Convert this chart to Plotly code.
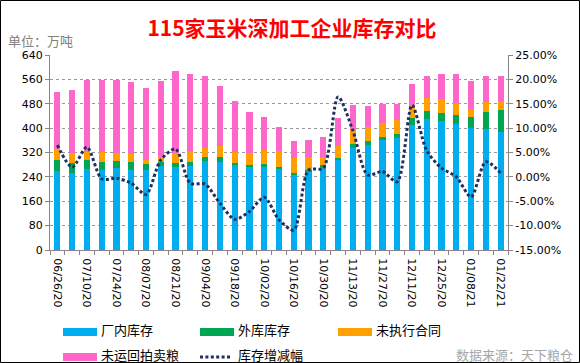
import plotly.graph_objects as go

# ---------------- data ----------------
dates = ["06/26/20", "07/03/20", "07/10/20", "07/17/20", "07/24/20", "07/31/20", "08/07/20",
         "08/14/20", "08/21/20", "08/28/20", "09/04/20", "09/11/20", "09/18/20", "09/25/20",
         "10/02/20", "10/09/20", "10/16/20", "10/23/20", "10/30/20", "11/06/20", "11/13/20",
         "11/20/20", "11/27/20", "12/04/20", "12/11/20", "12/18/20", "12/25/20", "01/01/21",
         "01/08/21", "01/15/21", "01/22/21"]

factory_stock = [259, 254, 266, 263, 270, 263, 262, 276, 272, 276, 292, 290, 281, 274, 274, 268,
                 247, 257, 272, 294, 335, 345, 360, 367, 410, 430, 425, 412, 402, 397, 388]
outside_stock = [36, 33, 29, 27, 22, 26, 19, 14, 14, 14, 14, 16, 6, 5, 8, 3,
                 7, 6, 7, 7, 13, 14, 11, 14, 22, 27, 26, 31, 36, 57, 72]
unexecuted = [35, 30, 26, 33, 25, 26, 14, 16, 34, 36, 28, 35, 36, 41, 46, 55,
              47, 43, 27, 41, 47, 46, 45, 45, 44, 43, 43, 38, 25, 33, 30]
auction_grain = [189, 208, 237, 235, 241, 236, 237, 249, 268, 252, 237, 197, 166, 133, 109, 78,
                 57, 55, 65, 92, 81, 68, 64, 52, 69, 72, 84, 97, 93, 85, 82]
change_pct = [6.5, 2.0, 6.1, -0.4, -0.3, -1.3, -3.6, 3.5, 5.7, -1.3, -1.5, -5.4, -8.7, -7.1,
              -4.2, -8.8, -10.9, 1.4, 1.8, 16.4, 9.5, 0.4, 1.1, -1.0, 14.7, 5.4, 1.8, 0.0,
              -4.1, 3.1, 0.8]

series_names = ["厂内库存", "外库库存", "未执行合同", "未运回拍卖粮", "库存增减幅"]
colors = ["#00AEEF", "#00A651", "#FFA000", "#FF66CC", "#1F3060"]

left_ticks = [0, 80, 160, 240, 320, 400, 480, 560, 640]
right_ticks = [-15, -10, -5, 0, 5, 10, 15, 20, 25]

title_text = "115家玉米深加工企业库存对比"
unit_text = "单位：万吨"
source_text = "数据来源：天下粮仓"

# ---------------- geometry helpers ----------------
FW, FH = 580, 363
ML, MR, MT, MB = 50, 72, 55, 113
PW, PH = FW - ML - MR, FH - MT - MB


def px(x):
    return (x - ML) / PW


def py(y):
    return (FH - MB - y) / PH


xs = list(range(len(dates)))

fig = go.Figure()
bar_series = [factory_stock, outside_stock, unexecuted, auction_grain]
for vals, name, col in zip(bar_series, series_names[:4], colors[:4]):
    fig.add_trace(go.Bar(x=xs, y=vals, name=name, marker=dict(color=col, line=dict(width=0)),
                         showlegend=False, yaxis="y"))

fig.add_trace(go.Scatter(x=xs, y=change_pct, name=series_names[4], mode="lines",
                         line=dict(color=colors[4], width=3, dash="3px,2.4px", shape="spline",
                                   smoothing=0.8),
                         showlegend=False, yaxis="y2"))

axis_font = dict(family="DejaVu Sans", size=11, color="#000000")

fig.update_layout(
    width=FW, height=FH,
    margin=dict(l=ML, r=MR, t=MT, b=MB),
    paper_bgcolor="white", plot_bgcolor="white",
    barmode="stack", bargap=0.58,
    font=dict(family="Noto Sans CJK SC", size=12, color="#000"),
    title=dict(text=title_text, x=292 / FW, xref="container", xanchor="center",
               y=1 - 29 / FH, yref="container", yanchor="middle",
               font=dict(family="Noto Sans CJK SC", size=21, color="#FF0000", weight="bold")),
    xaxis=dict(range=[-0.5, len(dates) - 0.5], tickmode="array",
               tickvals=xs[::2], ticktext=dates[::2], tickangle=90,
               tickfont=axis_font, ticks="outside", ticklen=5, tickcolor="rgba(0,0,0,0)",
               showline=True, linecolor="#868686", linewidth=1, showgrid=False, zeroline=False,
               minor=dict(tickvals=[i - 0.5 for i in range(len(dates) + 1)], ticks="outside",
                          ticklen=4, tickcolor="#868686", tickwidth=1, showgrid=False)),
    yaxis=dict(range=[0, 640], tickmode="array", tickvals=left_ticks,
               tickfont=axis_font, ticks="outside", ticklen=4, tickcolor="#868686",
               showline=True, linecolor="#868686", linewidth=1,
               showgrid=True, gridcolor="#999999", griddash="dot", gridwidth=1, zeroline=False),
    yaxis2=dict(range=[-15, 25], tickmode="array", tickvals=right_ticks,
                ticktext=[f"{v:.2f}%" for v in right_ticks], overlaying="y", side="right",
                tickfont=axis_font, ticks="outside", ticklen=4, tickcolor="#868686",
                showline=True, linecolor="#868686", linewidth=1, showgrid=False, zeroline=False),
)

shapes = []
annotations = []

# outer border
shapes.append(dict(type="rect", xref="paper", yref="paper", x0=px(0.5), x1=px(579.5),
                   y0=py(362.5), y1=py(0.5), line=dict(color="#000000", width=1),
                   fillcolor="rgba(0,0,0,0)", layer="above"))

# unit label
annotations.append(dict(text=unit_text, xref="paper", yref="paper", x=px(6), y=py(40),
                        xanchor="left", yanchor="middle", showarrow=False,
                        font=dict(family="Noto Sans CJK SC", size=13, color="#808080")))

# legend (manual)
legend_items = [
    (0, 63, 329), (1, 200, 329), (2, 338, 329),
    (3, 63, 354), (4, 200, 354),
]
for idx, lx, ly in legend_items:
    if idx < 4:
        shapes.append(dict(type="rect", xref="paper", yref="paper",
                           x0=px(lx), x1=px(lx + 34), y0=py(ly + 7), y1=py(ly - 1),
                           fillcolor=colors[idx], line=dict(width=0)))
    else:
        shapes.append(dict(type="line", xref="paper", yref="paper",
                           x0=px(lx), x1=px(lx + 32), y0=py(ly + 3), y1=py(ly + 3),
                           line=dict(color=colors[idx], width=3, dash="3px,2.4px")))
    annotations.append(dict(text=series_names[idx], xref="paper", yref="paper",
                            x=px(lx + 36), y=py(ly), xanchor="left", yanchor="middle",
                            showarrow=False,
                            font=dict(family="Noto Sans CJK SC", size=13, color="#000000")))

annotations.append(dict(text=source_text, xref="paper", yref="paper", x=px(575), y=py(354),
                        xanchor="right", yanchor="middle", showarrow=False,
                        font=dict(family="Noto Sans CJK SC", size=13, color="#A6A6A6")))

fig.update_layout(shapes=shapes, annotations=annotations)

fig.write_html("out.html", config={"displayModeBar": False},
               post_script="document.body.style.margin='0px';document.body.style.padding='0px';")
